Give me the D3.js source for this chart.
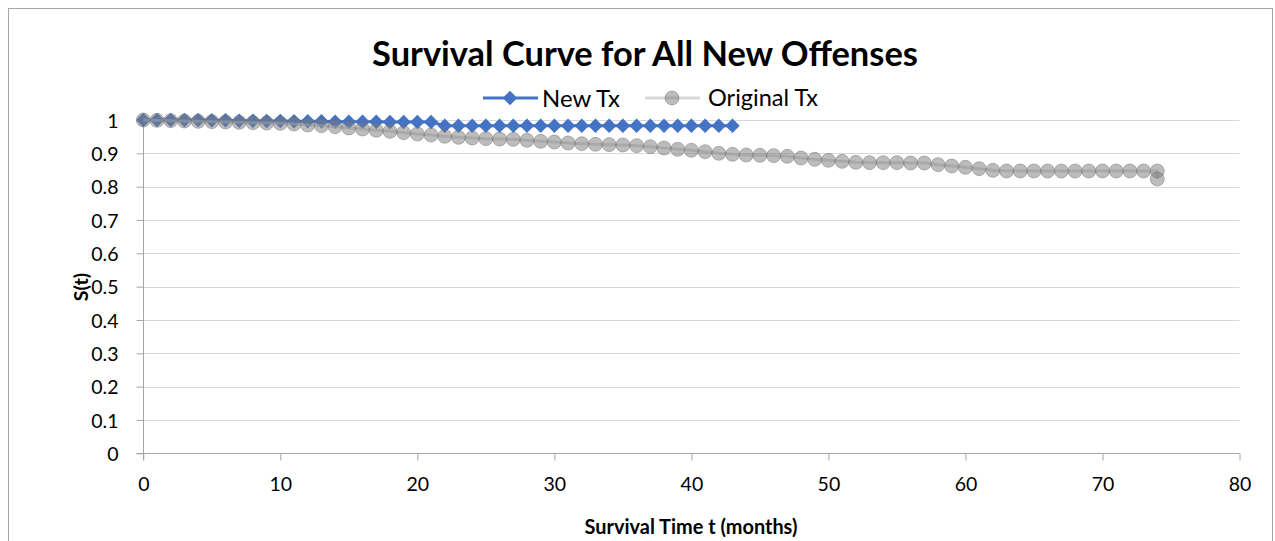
<!DOCTYPE html>
<html>
<head>
<meta charset="utf-8">
<script src="https://cdn.jsdelivr.net/npm/d3@7"></script>
<style>
  body { margin: 0; background: #fff; }
  text { font-family: Lato, "Open Sans", sans-serif; fill: #000; }
</style>
</head>
<body>
<div id="chart"></div>
<script>
// data
const newTxMonths = [0,1,2,3,4,5,6,7,8,9,10,11,12,13,14,15,16,17,18,19,20,21,
  22,23,24,25,26,27,28,29,30,31,32,33,34,35,36,37,38,39,40,41,42,43];
const newTxValues = [1,1,1,1,1,0.999,0.999,0.998,0.998,0.997,0.997,0.996,0.996,0.996,0.995,0.995,0.995,0.995,0.994,0.994,0.994,0.994,
  0.983,0.983,0.983,0.983,0.983,0.983,0.983,0.983,0.983,0.983,0.983,0.983,0.983,0.983,0.983,0.983,0.983,0.983,0.983,0.983,0.983,0.983];

const origTxMonths = [0,1,2,3,4,5,6,7,8,9,10,11,12,13,14,15,16,17,18,19,20,21,22,23,24,
  25,26,27,28,29,30,31,32,33,34,35,36,37,38,39,40,41,42,43,44,45,46,47,48,49,
  50,51,52,53,54,55,56,57,58,59,60,61,62,63,64,65,66,67,68,69,70,71,72,73,74,74];
const origTxValues = [1,0.999,0.998,0.997,0.996,0.995,0.994,0.993,0.992,0.991,0.99,0.988,0.985,0.983,0.98,0.976,0.973,0.969,0.966,0.962,0.958,0.955,0.951,0.948,0.946,
  0.944,0.943,0.942,0.939,0.936,0.934,0.931,0.929,0.927,0.926,0.925,0.923,0.92,0.916,0.912,0.909,0.905,0.9,0.897,0.895,0.894,0.893,0.891,0.886,0.882,
  0.879,0.876,0.873,0.872,0.872,0.872,0.871,0.871,0.866,0.862,0.858,0.854,0.849,0.847,0.847,0.847,0.847,0.847,0.847,0.847,0.847,0.847,0.847,0.847,0.847,0.823];

const xTicks = [0,10,20,30,40,50,60,70,80];
const yTicks = [0,0.1,0.2,0.3,0.4,0.5,0.6,0.7,0.8,0.9,1];

const W = 1275, H = 541;
const plot = { left: 143.3, right: 1239.5, top: 120, bottom: 453.3 };

const newTx = newTxMonths.map((m, i) => ({ t: m, s: newTxValues[i] }));
const origTx = origTxMonths.map((m, i) => ({ t: m, s: origTxValues[i] }));

const svg = d3.select("#chart").append("svg")
    .attr("width", W)
    .attr("height", H);

// chart border
svg.append("rect")
    .attr("x", 8.5).attr("y", 8.5)
    .attr("width", 1264).attr("height", 600)
    .attr("fill", "#fff")
    .attr("stroke", "#a6a6a6");

const x = d3.scaleLinear().domain([0, 80]).range([plot.left, plot.right]);
const y = d3.scaleLinear().domain([0, 1]).range([plot.bottom, plot.top]);

// gridlines
svg.append("g")
    .selectAll("line")
    .data(yTicks.filter(d => d > 0))
    .enter().append("line")
    .attr("x1", plot.left).attr("x2", plot.right)
    .attr("y1", d => Math.round(y(d)) + 0.5)
    .attr("y2", d => Math.round(y(d)) + 0.5)
    .attr("stroke", "#d9d9d9")
    .attr("stroke-width", 1);

// axes
const xAxis = svg.append("g")
    .attr("transform", "translate(0," + (Math.round(plot.bottom) + 0.5) + ")")
    .call(d3.axisBottom(x).tickValues(xTicks).tickSize(7).tickPadding(16).tickFormat(d3.format("d")));
const yAxis = svg.append("g")
    .attr("transform", "translate(" + (Math.round(plot.left) + 0.5) + ",0)")
    .call(d3.axisLeft(y).tickValues(yTicks).tickSize(7).tickPadding(18).tickFormat(d => d3.format("")(d)));

[xAxis, yAxis].forEach(a => {
  a.select(".domain").attr("stroke", "#a6a6a6");
  a.selectAll(".tick line").attr("stroke", "#a6a6a6");
  a.selectAll(".tick text")
    .style("font-family", "Lato, 'Open Sans', sans-serif")
    .style("font-size", "19.5px")
    .attr("fill", "#000");
});
xAxis.select(".domain").attr("d", "M" + (plot.left - 7) + ",0H" + plot.right);
yAxis.select(".domain").attr("d", "M0," + y(1) + "V" + (plot.bottom + 7));
yAxis.selectAll(".tick text").attr("dy", "0.36em");
xAxis.selectAll(".tick text").attr("dy", "0.75em");

// New Tx series
const line = d3.line().x(d => x(d.t)).y(d => y(d.s));
svg.append("path")
    .datum(newTx)
    .attr("fill", "none")
    .attr("stroke", "#4472c4")
    .attr("stroke-width", 3)
    .attr("d", line);
const diamond = d3.symbol().type(d3.symbolSquare).size(104);
svg.append("g")
    .selectAll("path")
    .data(newTx)
    .enter().append("path")
    .attr("d", diamond)
    .attr("transform", d => "translate(" + x(d.t) + "," + y(d.s) + ") rotate(45)")
    .attr("fill", "#4472c4");

// Original Tx series
svg.append("path")
    .datum(origTx)
    .attr("fill", "none")
    .attr("stroke", "#bfbfbf")
    .attr("stroke-opacity", 0.6)
    .attr("stroke-width", 3)
    .attr("d", line);
svg.append("g")
    .selectAll("circle")
    .data(origTx)
    .enter().append("circle")
    .attr("cx", d => x(d.t))
    .attr("cy", d => y(d.s))
    .attr("r", 7)
    .attr("fill", "#7a7a7a")
    .attr("fill-opacity", 0.5)
    .attr("stroke", "#6f6f6f")
    .attr("stroke-opacity", 0.45)
    .attr("stroke-width", 1);

// title
function fitText(sel, width) {
  const w = sel.node().getComputedTextLength();
  const fs = parseFloat(sel.style("font-size"));
  sel.style("font-size", (fs * width / w) + "px");
}
const title = svg.append("text")
    .attr("x", 645).attr("y", 66)
    .attr("text-anchor", "middle")
    .style("font-size", "28px")
    .style("font-weight", "bold")
    .text("Survival Curve for All New Offenses");
fitText(title, 546);

// axis titles
const xTitle = svg.append("text")
    .attr("x", 691).attr("y", 534)
    .attr("text-anchor", "middle")
    .style("font-size", "18px")
    .style("font-weight", "bold")
    .text("Survival Time t (months)");
fitText(xTitle, 213);

svg.append("text")
    .attr("transform", "translate(88,287) rotate(-90)")
    .attr("text-anchor", "middle")
    .style("font-size", "19.5px")
    .style("font-weight", "bold")
    .text("S(t)");

// legend
const legend = svg.append("g");
legend.append("line")
    .attr("x1", 483).attr("x2", 538).attr("y1", 98).attr("y2", 98)
    .attr("stroke", "#4472c4").attr("stroke-width", 3);
legend.append("path")
    .attr("d", diamond)
    .attr("transform", "translate(510,98) rotate(45)")
    .attr("fill", "#4472c4");
const lt1 = legend.append("text")
    .attr("x", 542).attr("y", 98).attr("dy", "0.36em")
    .style("font-size", "20px")
    .text("New Tx");
fitText(lt1, 78);
legend.append("line")
    .attr("x1", 645).attr("x2", 700).attr("y1", 98).attr("y2", 98)
    .attr("stroke", "#bfbfbf").attr("stroke-opacity", 0.6).attr("stroke-width", 3);
legend.append("circle")
    .attr("cx", 672).attr("cy", 98).attr("r", 7)
    .attr("fill", "#7a7a7a").attr("fill-opacity", 0.5)
    .attr("stroke", "#6f6f6f").attr("stroke-opacity", 0.45);
const lt2 = legend.append("text")
    .attr("x", 708).attr("y", 98).attr("dy", "0.36em")
    .style("font-size", "20px")
    .text("Original Tx");
fitText(lt2, 110);
</script>
</body>
</html>
